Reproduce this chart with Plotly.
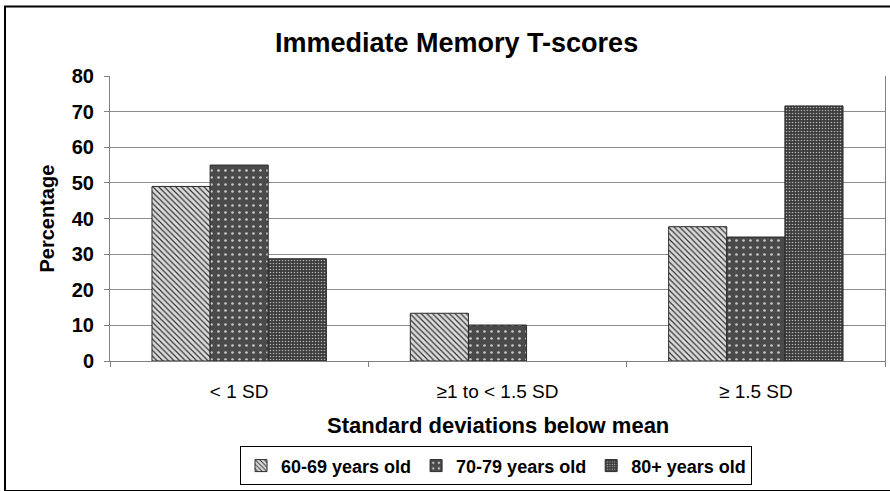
import plotly.graph_objects as go

# Chart data
categories = ["< 1 SD", "\u22651 to < 1.5 SD", "\u2265 1.5 SD"]
age_groups = ["60-69 years old", "70-79 years old", "80+ years old"]
pct_60_69 = [49.0, 13.4, 37.7]
pct_70_79 = [55.0, 10.1, 34.8]
pct_80_plus = [28.7, 0.0, 71.6]
y_ticks = [0, 10, 20, 30, 40, 50, 60, 70, 80]

FONT = "Liberation Sans, Arial, sans-serif"

patterns = [
    dict(shape="\\", fgcolor="#333333", bgcolor="#dcdcdc", size=4, solidity=0.3, fillmode="replace"),
    dict(shape=".", fgcolor="#c8c8c8", bgcolor="#4a4a4a", size=7, solidity=0.12, fillmode="replace"),
    dict(shape=".", fgcolor="#b0b0b0", bgcolor="#3c3c3c", size=3, solidity=0.22, fillmode="replace"),
]

fig = go.Figure()
for name, vals, pat in zip(age_groups, [pct_60_69, pct_70_79, pct_80_plus], patterns):
    fig.add_trace(go.Bar(
        x=categories, y=vals, name=name,
        marker=dict(color=pat["bgcolor"], pattern=pat,
                    line=dict(color="#2a2a2a", width=[1 if v > 0 else 0 for v in vals])),
    ))

# plot-area geometry in pixels (used for the outer frame and label placement)
W, H = 890, 491
L, R, T, B = 110, 5, 76, 128
pw, ph = W - L - R, H - T - B

def px_x(x):
    return (x - L) / pw

def px_y(y):
    return (H - B - y) / ph

fig.update_layout(
    width=W, height=H,
    margin=dict(l=L, r=R, t=T, b=B),
    paper_bgcolor="white", plot_bgcolor="white",
    barmode="group", bargap=0.325, bargroupgap=0,
    font=dict(family=FONT, color="black"),
    showlegend=True,
    legend=dict(
        orientation="h", x=px_x(496), xanchor="center", y=px_y(449), yanchor="top",
        bordercolor="black", borderwidth=1, bgcolor="white",
        font=dict(size=18, family=FONT, weight="bold"), itemwidth=30, tracegroupgap=0,
    ),
    xaxis=dict(
        showline=True, linecolor="#808080", linewidth=1,
        ticks="outside", tickson="boundaries", ticklen=5, tickcolor="#808080",
        tickfont=dict(size=19, family=FONT), ticklabelstandoff=13,
        showgrid=False, mirror=False,
    ),
    yaxis=dict(
        range=[0, 80], tickvals=y_ticks, showline=True, linecolor="#808080", linewidth=1,
        ticks="outside", ticklen=5, tickcolor="#808080",
        tickfont=dict(size=20, family=FONT, weight="bold"), ticklabelstandoff=6,
        showgrid=True, gridcolor="#8c8c8c", gridwidth=1,
        mirror=True, zeroline=False,
    ),
    annotations=[
        dict(text="<b>Immediate Memory T-scores</b>", xref="paper", yref="paper",
             x=px_x(456), y=px_y(43), xanchor="center", yanchor="middle",
             showarrow=False, font=dict(size=27, family=FONT)),
        dict(text="<b>Percentage</b>", xref="paper", yref="paper",
             x=px_x(46), y=0.5, xanchor="center", yanchor="middle", textangle=-90,
             showarrow=False, font=dict(size=20, family=FONT)),
        dict(text="<b>Standard deviations below mean</b>", xref="paper", yref="paper",
             x=px_x(498), y=px_y(428), xanchor="center", yanchor="middle",
             showarrow=False, font=dict(size=22, family=FONT)),
    ],
    shapes=[
        dict(type="rect", xref="paper", yref="paper",
             x0=px_x(5), x1=px_x(893), y0=px_y(494), y1=px_y(6),
             line=dict(color="black", width=2), fillcolor="rgba(0,0,0,0)", layer="below"),
    ],
)

fig.write_html("out.html")
